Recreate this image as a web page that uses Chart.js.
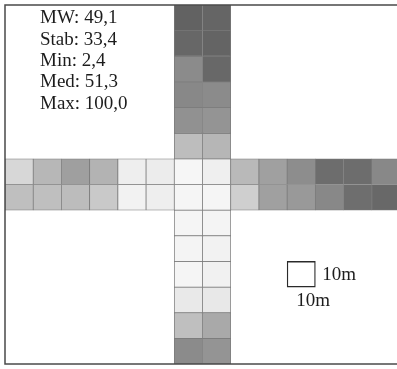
<!DOCTYPE html>
<html>
<head>
<meta charset="utf-8">
<script src="https://cdn.jsdelivr.net/npm/chart.js@4/dist/chart.umd.min.js"></script>
<style>
  html, body { margin: 0; padding: 0; background: #fff; overflow: hidden; width: 397px; height: 369px; }
  canvas { display: block; }
</style>
</head>
<body>
<canvas id="c" width="402" height="369"></canvas>
<script>
// 14 x 14 grid of plots; only the cross-shaped transect is sampled.
const gridColumns = ['1','2','3','4','5','6','7','8','9','10','11','12','13','14'];
const armColumns = [6, 7];                 // column indices of the vertical arm

// values (0..100) per plot
const topArm = [                           // rows 1..6, [left, right]
  [100, 98], [97, 99], [73, 96], [75, 73], [69, 67], [40, 45]
];
const crossRowUpper = [23, 44, 60, 47, 8, 9, 2.4, 7, 43, 59, 72, 93, 93, 75];
const crossRowLower = [39, 39, 41, 32, 5, 8, 3, 3, 28, 59, 64, 75, 92, 96];
const bottomArm = [                        // rows 9..14, [left, right]
  [3, 4], [4, 5], [3, 6], [11, 12], [39, 53], [73, 67]
];

// summary shown in the upper left corner
const statLines = ['MW: 49,1', 'Stab: 33,4', 'Min: 2,4', 'Med: 51,3', 'Max: 100,0'];
// reference square: one plot (column 11, row 11)
const scaleCell = { col: 10, row: 10 };
const scaleLabel = '10m';

function grayFor(v) {
  const g = Math.round(250 - 1.52 * v);
  return `rgb(${g},${g},${g})`;
}

function rowValues(r) {
  if (r === 6) return crossRowUpper;
  if (r === 7) return crossRowLower;
  const pair = r < 6 ? topArm[r] : bottomArm[r - 8];
  return gridColumns.map((_, c) => {
    const k = armColumns.indexOf(c);
    return k >= 0 ? pair[k] : null;
  });
}

const datasets = [];
for (let r = 0; r < 14; r++) {
  const vals = rowValues(r);
  datasets.push({
    label: 'row ' + (r + 1),
    data: vals.map(v => v === null ? null : [r, r + 1]),
    backgroundColor: vals.map(v => v === null ? 'rgba(0,0,0,0)' : grayFor(v)),
    borderColor: '#7a7a7a',
    borderWidth: 0.75,
    borderSkipped: false
  });
}
// scale square
datasets.push({
  label: 'scale',
  data: gridColumns.map((_, c) => c === scaleCell.col ? [scaleCell.row, scaleCell.row + 1] : null),
  backgroundColor: '#ffffff',
  borderColor: '#2a2a2a',
  borderWidth: 1.3,
  borderSkipped: false
});

const frameAndText = {
  id: 'frameAndText',
  afterDatasetsDraw(chart) {
    const { ctx, chartArea } = chart;
    ctx.save();
    ctx.strokeStyle = '#4a4a4a';
    ctx.lineWidth = 1.5;
    ctx.strokeRect(chartArea.left, chartArea.top, chartArea.right - chartArea.left, chartArea.bottom - chartArea.top);

    ctx.fillStyle = '#1c1c1c';
    ctx.font = '19px "Liberation Serif", "Times New Roman", serif';
    ctx.textBaseline = 'middle';
    ctx.textAlign = 'left';
    statLines.forEach((t, i) => ctx.fillText(t, 40, 18.5 + i * 21.3));

    const meta = chart.getDatasetMeta(chart.data.datasets.length - 1);
    const bar = meta.data[scaleCell.col];
    const left = bar.x - bar.width / 2;
    const right = bar.x + bar.width / 2;
    const top = Math.min(bar.y, bar.base);
    const bottom = Math.max(bar.y, bar.base);
    ctx.fillText(scaleLabel, right + 7, (top + bottom) / 2 + 1);
    ctx.fillText(scaleLabel, left + 9, bottom + 14);
    ctx.restore();
  }
};

new Chart(document.getElementById('c'), {
  type: 'bar',
  data: { labels: gridColumns, datasets },
  options: {
    responsive: false,
    animation: false,
    layout: { padding: { left: 5, top: 5, right: 2, bottom: 5 } },
    datasets: { bar: { grouped: false, barPercentage: 1, categoryPercentage: 1 } },
    plugins: { legend: { display: false }, tooltip: { enabled: false } },
    scales: {
      x: { type: 'category', display: false, offset: true },
      y: { type: 'linear', min: 0, max: 14, reverse: true, display: false }
    }
  },
  plugins: [frameAndText]
});
</script>
</body>
</html>
